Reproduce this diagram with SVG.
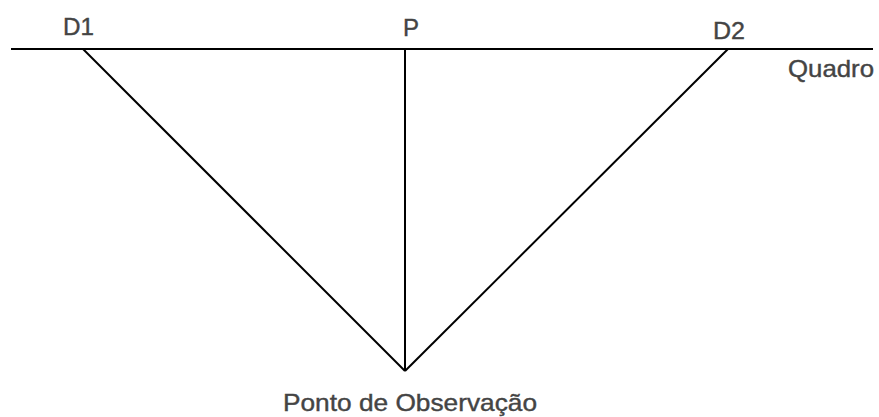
<svg xmlns="http://www.w3.org/2000/svg" width="879" height="417" viewBox="0 0 879 417">
<style>
.ln{stroke:#000;stroke-width:2;fill:none}
.lb{font-family:"Liberation Sans",Arial,sans-serif;font-size:24px;fill:#444;stroke:#444;stroke-width:0.4}
</style>
<rect width="879" height="417" fill="#fff"/>
<g id="connectors">
<line class="ln" x1="11" y1="49" x2="873" y2="49"/>
<line class="ln" x1="83" y1="49" x2="405" y2="371"/>
<line class="ln" x1="405" y1="49" x2="405" y2="371"/>
<line class="ln" x1="728" y1="49" x2="405" y2="371"/>
</g>
<g id="D1"><text class="lb" x="63" y="35" textLength="31" lengthAdjust="spacingAndGlyphs">D1</text></g>
<g id="P"><text class="lb" x="403" y="36">P</text></g>
<g id="D2"><text class="lb" x="713" y="39" textLength="32" lengthAdjust="spacingAndGlyphs">D2</text></g>
<g id="Quadro"><text class="lb" x="788" y="77" textLength="86" lengthAdjust="spacingAndGlyphs">Quadro</text></g>
<g id="PontoObservacao"><text class="lb" x="283" y="411" textLength="254" lengthAdjust="spacingAndGlyphs">Ponto de Observação</text></g>
</svg>
